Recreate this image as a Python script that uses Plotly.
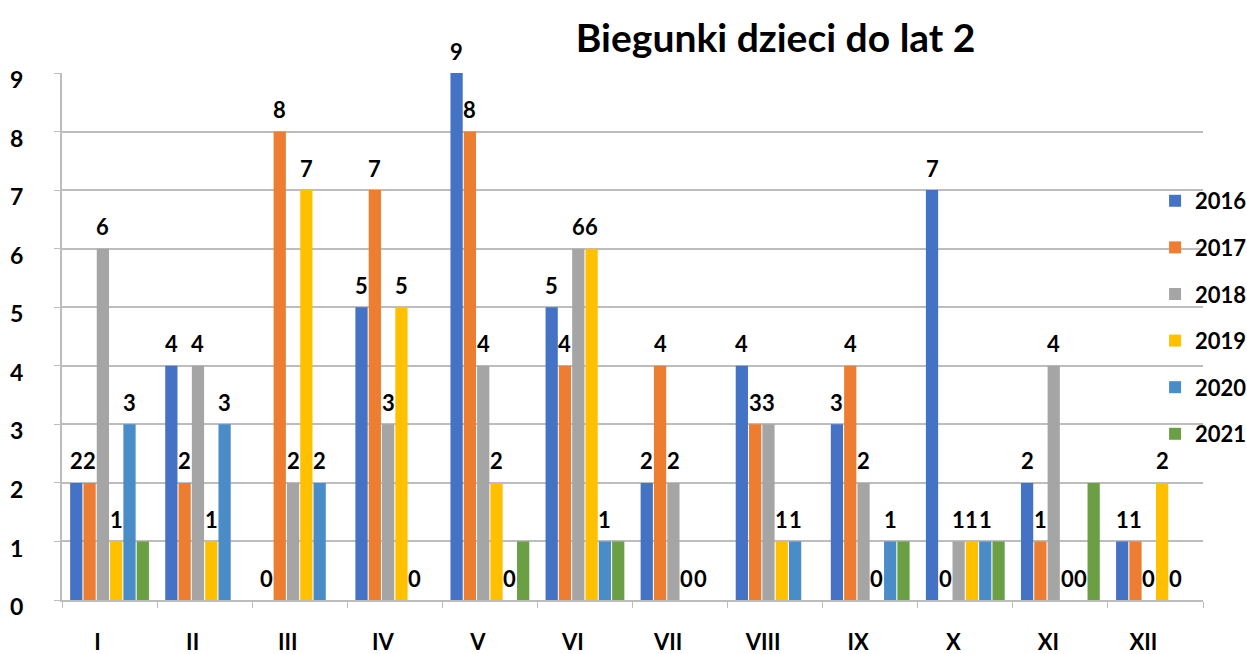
import plotly.graph_objects as go

months = ["I", "II", "III", "IV", "V", "VI", "VII", "VIII", "IX", "X", "XI", "XII"]
years = ["2016", "2017", "2018", "2019", "2020", "2021"]
v2016 = [2, 4, 0, 5, 9, 5, 2, 4, 3, 7, 2, 1]
v2017 = [2, 2, 8, 7, 8, 4, 4, 3, 4, 0, 1, 1]
v2018 = [6, 4, 2, 3, 4, 6, 2, 3, 2, 1, 4, 0]
v2019 = [1, 1, 7, 5, 2, 6, 0, 1, 0, 1, 0, 2]
v2020 = [3, 3, 2, 0, 0, 1, 0, 1, 1, 1, 0, 0]
v2021 = [1, 0, 0, 0, 1, 1, 0, 0, 1, 1, 2, 0]
series = [v2016, v2017, v2018, v2019, v2020, v2021]
show_labels = [True, True, True, True, True, False]
colors = ["#4472C4", "#ED7D31", "#A5A5A5", "#FFC000", "#4A8CC8", "#6AA043"]

FONT = "Lato"
BARGAP = 0.16
n = len(series)
slot = (1 - BARGAP) / n

fig = go.Figure()
annotations = []
for j, (name, vals, col, lab) in enumerate(zip(years, series, colors, show_labels)):
    fig.add_trace(go.Bar(
        x=months, y=vals, name=name, legendgroup=name,
        marker=dict(color=col, line=dict(width=0)),
        width=slot * 0.92,
    ))
    if lab:
        for i, v in enumerate(vals):
            annotations.append(dict(
                x=i + (j - (n - 1) / 2) * slot, y=v, xref="x", yref="y",
                text=f"<b>{v}</b>", showarrow=False, yanchor="middle", yshift=22,
                font=dict(family=FONT, size=22, color="black"),
            ))

fig.update_layout(
    width=1247, height=654,
    margin=dict(l=62, r=44, t=73, b=54, autoexpand=False),
    paper_bgcolor="white", plot_bgcolor="white",
    barmode="group", bargap=BARGAP, bargroupgap=0,
    title=dict(text="<b>Biegunki dzieci do lat 2</b>", x=0.622, xanchor="center",
               y=0.942, yanchor="middle",
               font=dict(family=FONT, size=39, color="black")),
    legend=dict(x=0.958, xanchor="left", y=0.797, yanchor="top",
                bgcolor="rgba(0,0,0,0)", tracegroupgap=15,
                font=dict(family=FONT, size=22, color="black", weight="bold")),
    font=dict(family=FONT),
    showlegend=True,
    annotations=annotations,
)
fig.update_yaxes(range=[0, 9], dtick=1, showgrid=True, gridcolor="#BDBDBD", gridwidth=2,
                 showline=True, linecolor="#BDBDBD", linewidth=2,
                 ticks="outside", ticklen=6, tickcolor="#BDBDBD", automargin=False,
                 ticklabelstandoff=26, ticklabelshift=7, zeroline=False,
                 tickfont=dict(family=FONT, size=23, color="black", weight="bold"))
fig.update_xaxes(showline=True, linecolor="#BDBDBD", linewidth=2, automargin=False,
                 ticks="outside", ticklen=6, tickcolor="#BDBDBD", tickson="boundaries",
                 ticklabelstandoff=22, ticklabelshift=-12,
                 tickfont=dict(family=FONT, size=22, color="black", weight="bold"))

fig.write_html("out.html", config={"displayModeBar": False},
               post_script="document.body.style.margin='0';document.body.style.overflow='hidden';")
